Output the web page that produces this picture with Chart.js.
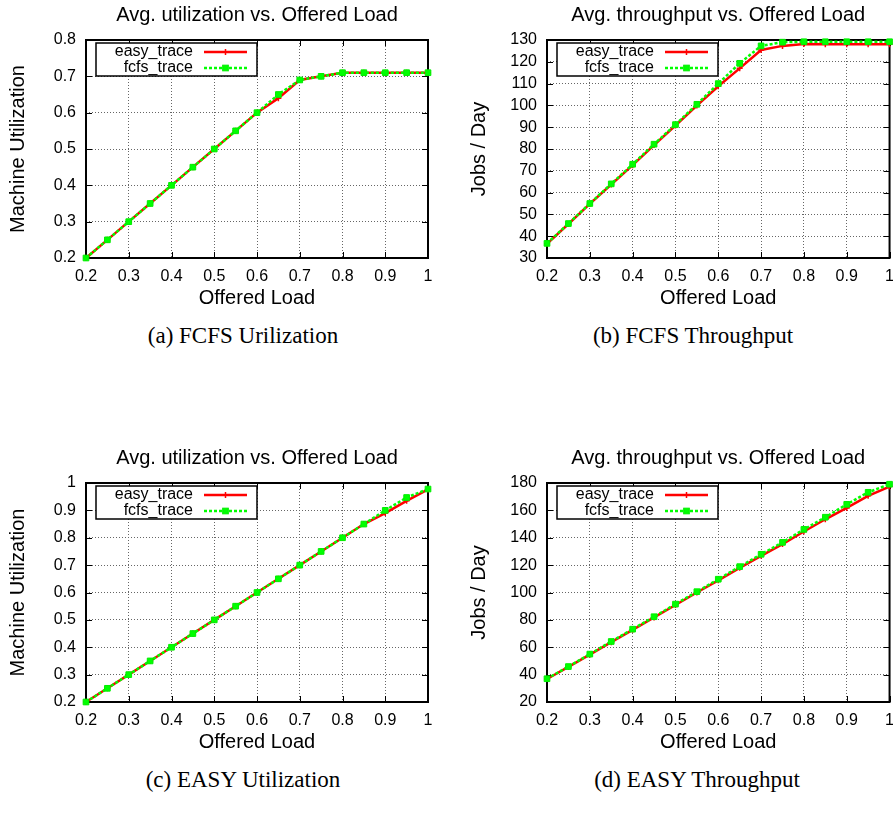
<!DOCTYPE html>
<html>
<head>
<meta charset="utf-8">
<script src="https://cdn.jsdelivr.net/npm/chart.js@4.4.0/dist/chart.umd.min.js"></script>
<style>
  html, body { margin: 0; padding: 0; background: #fff; overflow: hidden; }
  #pagina { position: relative; width: 893px; height: 825px; overflow: hidden; }
  canvas { position: absolute; }
  .legenda {
    position: absolute; width: 446px; text-align: center;
    font-family: "Liberation Serif", "Times New Roman", serif;
    font-size: 23px; line-height: 26px; color: #000;
  }
</style>
</head>
<body>
<div id="pagina">
  <canvas id="gA" width="446" height="310" style="left:0;top:0"></canvas>
  <canvas id="gB" width="457" height="310" style="left:446px;top:0"></canvas>
  <canvas id="gC" width="446" height="315" style="left:0;top:440px"></canvas>
  <canvas id="gD" width="457" height="315" style="left:446px;top:440px"></canvas>
  <div class="legenda" style="left:20px;top:323px">(a) FCFS Urilization</div>
  <div class="legenda" style="left:470px;top:323px">(b) FCFS Throughput</div>
  <div class="legenda" style="left:20px;top:767px">(c) EASY Utilization</div>
  <div class="legenda" style="left:474px;top:767px">(d) EASY Throughput</div>
</div>
<script>
// ------------------------
// Dados
// ------------------------

const cargaOferecida = [0.2, 0.25, 0.3, 0.35, 0.4, 0.45, 0.5, 0.55, 0.6, 0.65, 0.7, 0.75, 0.8, 0.85, 0.9, 0.95, 1];

// (a) FCFS - utilização
const utilFcfsEasy = [0.2, 0.25, 0.3, 0.35, 0.4, 0.45, 0.5, 0.55, 0.6, 0.64, 0.69, 0.70, 0.71, 0.71, 0.71, 0.71, 0.71];
const utilFcfsFcfs = [0.2, 0.25, 0.3, 0.35, 0.4, 0.45, 0.5, 0.55, 0.6, 0.65, 0.69, 0.70, 0.71, 0.71, 0.71, 0.71, 0.71];

// (b) FCFS - vazão
const vazaoFcfsEasy = [36.5, 45.6, 54.8, 63.7, 72.6, 81.8, 90.8, 99.9, 108.8, 117, 125.4, 127.3, 128.2, 128.1, 128.1, 128.1, 128.1];
const vazaoFcfsFcfs = [36.7, 45.8, 55, 64, 73, 82.2, 91.2, 100.5, 110, 119.3, 127.3, 129, 129.2, 129.2, 129.2, 129.2, 129.2];

// (c) EASY - utilização
const utilEasyEasy = [0.2, 0.25, 0.3, 0.35, 0.4, 0.45, 0.5, 0.55, 0.6, 0.65, 0.7, 0.75, 0.8, 0.85, 0.89, 0.935, 0.977];
const utilEasyFcfs = [0.2, 0.25, 0.3, 0.35, 0.4, 0.45, 0.5, 0.55, 0.6, 0.65, 0.7, 0.75, 0.8, 0.85, 0.9, 0.947, 0.978];

// (d) EASY - vazão
const vazaoEasyEasy = [36.8, 45.6, 54.6, 63.7, 72.7, 81.8, 90.9, 100, 108.9, 118, 126.8, 135.4, 144.6, 153.5, 161.8, 170.6, 177.4];
const vazaoEasyFcfs = [37, 45.9, 55, 64.2, 73.2, 82.3, 91.5, 100.6, 109.7, 118.9, 127.9, 136.6, 146.1, 155, 164.4, 173.2, 179.1];

const rotulosSeries = ['easy_trace', 'fcfs_trace'];

// ------------------------
// Estilo
// ------------------------

const fonte = '"Liberation Sans", Arial, sans-serif';
const corGrade = '#666';

function pontos(valores) {
  return valores.map((v, i) => ({ x: cargaOferecida[i], y: v }));
}

// rótulo sem zeros à direita ("1" e não "1.0")
function formatarTick(v) {
  return String(Math.round(v * 100) / 100);
}

// moldura estilo gnuplot: caixa completa + marcas de escala para dentro
const moldura = {
  id: 'moldura',
  beforeDatasetsDraw(chart) {
    const { ctx, chartArea: a, scales } = chart;
    ctx.save();
    ctx.strokeStyle = '#000';
    ctx.lineWidth = 1;
    ctx.beginPath();
    scales.x.ticks.forEach(t => {
      const px = Math.round(scales.x.getPixelForValue(t.value)) + 0.5;
      ctx.moveTo(px, a.bottom); ctx.lineTo(px, a.bottom - 6);
      ctx.moveTo(px, a.top); ctx.lineTo(px, a.top + 6);
    });
    scales.y.ticks.forEach(t => {
      const py = Math.round(scales.y.getPixelForValue(t.value)) + 0.5;
      ctx.moveTo(a.left, py); ctx.lineTo(a.left + 6, py);
      ctx.moveTo(a.right, py); ctx.lineTo(a.right - 6, py);
    });
    ctx.stroke();
    ctx.lineWidth = 2;
    ctx.strokeRect(a.left, a.top, a.right - a.left, a.bottom - a.top);
    ctx.restore();
  }
};

function desenharMarcador(ctx, ds, x, y) {
  const r = ds.pointRadius;
  ctx.fillStyle = ds.pointBackgroundColor;
  ctx.strokeStyle = ds.pointBorderColor;
  ctx.lineWidth = ds.pointBorderWidth;
  if (ds.pointStyle === 'rect') {
    const s = r / Math.SQRT2;
    ctx.fillRect(x - s, y - s, 2 * s, 2 * s);
    ctx.strokeRect(x - s, y - s, 2 * s, 2 * s);
  } else {
    ctx.beginPath();
    ctx.moveTo(x - r, y); ctx.lineTo(x + r, y);
    ctx.moveTo(x, y - r); ctx.lineTo(x, y + r);
    ctx.stroke();
  }
}

// legenda em caixa no canto superior esquerdo
const caixaLegenda = {
  id: 'caixaLegenda',
  afterDatasetsDraw(chart) {
    const { ctx, chartArea: a } = chart;
    const x0 = a.left + 10, y0 = a.top + 3;
    ctx.save();
    ctx.fillStyle = '#fff';
    ctx.fillRect(x0, y0, 161, 33);
    ctx.strokeStyle = '#000';
    ctx.lineWidth = 1.5;
    ctx.strokeRect(x0, y0, 161, 33);
    ctx.font = '16px ' + fonte;
    ctx.textAlign = 'right';
    ctx.textBaseline = 'middle';
    chart.data.datasets.forEach((ds, i) => {
      const y = y0 + 9 + i * 16;
      ctx.fillStyle = '#000';
      ctx.fillText(ds.label, x0 + 97, y);
      ctx.strokeStyle = ds.borderColor;
      ctx.lineWidth = ds.borderWidth;
      ctx.setLineDash(ds.borderDash || []);
      ctx.beginPath();
      ctx.moveTo(x0 + 108, y); ctx.lineTo(x0 + 151, y);
      ctx.stroke();
      ctx.setLineDash([]);
      desenharMarcador(ctx, ds, x0 + 129.5, y);
    });
    ctx.restore();
  }
};

function montarPainel(id, pos, titulo, rotuloY, eixoY, serieEasy, serieFcfs) {
  const ctx = document.getElementById(id).getContext('2d');
  return new Chart(ctx, {
    type: 'line',
    data: {
      datasets: [
        {
          label: rotulosSeries[0],
          data: pontos(serieEasy),
          borderColor: '#ff0000',
          borderWidth: 2.5,
          pointStyle: 'cross',
          pointRadius: 3,
          pointBorderWidth: 1.5,
          pointBorderColor: '#ff0000',
          pointBackgroundColor: '#ff0000',
          tension: 0,
          clip: false,
          order: 1
        },
        {
          label: rotulosSeries[1],
          data: pontos(serieFcfs),
          borderColor: '#00ff00',
          borderWidth: 2.5,
          borderDash: [3, 2],
          pointStyle: 'rect',
          pointRadius: 4,
          pointBorderWidth: 1,
          pointBorderColor: '#00ee00',
          pointBackgroundColor: '#00ff00',
          tension: 0,
          clip: false,
          order: 0
        }
      ]
    },
    options: {
      responsive: false,
      animation: false,
      layout: { padding: { left: 0, right: pos.dir, top: 0, bottom: 0 } },
      plugins: {
        legend: { display: false },
        tooltip: { enabled: false },
        title: {
          display: true,
          text: titulo,
          fullSize: false,
          color: '#000',
          font: { family: fonte, size: 20, weight: 'normal' },
          padding: { top: pos.tituloTopo, bottom: pos.tituloBase }
        }
      },
      scales: {
        x: {
          type: 'linear',
          min: 0.2,
          max: 1,
          ticks: {
            stepSize: 0.1, padding: 9, color: '#000', autoSkip: false, maxRotation: 0,
            font: { family: fonte, size: 16 }, callback: formatarTick
          },
          grid: { color: corGrade, drawTicks: false },
          border: { display: false, dash: [1, 2] },
          title: {
            display: true, text: 'Offered Load', color: '#000',
            font: { family: fonte, size: 20 },
            padding: { top: 0, bottom: pos.xTituloBase }
          },
          afterFit(s) { s.height = pos.alturaX; }
        },
        y: {
          type: 'linear',
          min: eixoY.min,
          max: eixoY.max,
          ticks: {
            stepSize: eixoY.passo, padding: 10, color: '#000', autoSkip: false,
            font: { family: fonte, size: 16 }, callback: formatarTick
          },
          grid: { color: corGrade, drawTicks: false },
          border: { display: false, dash: [1, 2] },
          title: {
            display: true, text: rotuloY, color: '#000',
            font: { family: fonte, size: 20 },
            padding: { top: pos.yTituloTopo, bottom: 0 }
          },
          afterFit(s) { s.width = pos.esq; }
        }
      }
    },
    plugins: [moldura, caixaLegenda]
  });
}

// ------------------------
// Painéis
// ------------------------

const posSupEsq = { esq: 86, dir: 18, tituloTopo: 3, tituloBase: 13, alturaX: 52, xTituloBase: 0, yTituloTopo: 6 };
const posSupDir = { esq: 101, dir: 7, tituloTopo: 3, tituloBase: 13, alturaX: 52, xTituloBase: 0, yTituloTopo: 21 };
const posInfEsq = { esq: 86, dir: 18, tituloTopo: 6, tituloBase: 13, alturaX: 53, xTituloBase: 1, yTituloTopo: 6 };
const posInfDir = { esq: 101, dir: 7, tituloTopo: 6, tituloBase: 13, alturaX: 53, xTituloBase: 1, yTituloTopo: 21 };

montarPainel('gA', posSupEsq, 'Avg. utilization vs. Offered Load', 'Machine Utilization',
  { min: 0.2, max: 0.8, passo: 0.1 }, utilFcfsEasy, utilFcfsFcfs);
montarPainel('gB', posSupDir, 'Avg. throughput vs. Offered Load', 'Jobs / Day',
  { min: 30, max: 130, passo: 10 }, vazaoFcfsEasy, vazaoFcfsFcfs);
montarPainel('gC', posInfEsq, 'Avg. utilization vs. Offered Load', 'Machine Utilization',
  { min: 0.2, max: 1, passo: 0.1 }, utilEasyEasy, utilEasyFcfs);
montarPainel('gD', posInfDir, 'Avg. throughput vs. Offered Load', 'Jobs / Day',
  { min: 20, max: 180, passo: 20 }, vazaoEasyEasy, vazaoEasyFcfs);
</script>
</body>
</html>
